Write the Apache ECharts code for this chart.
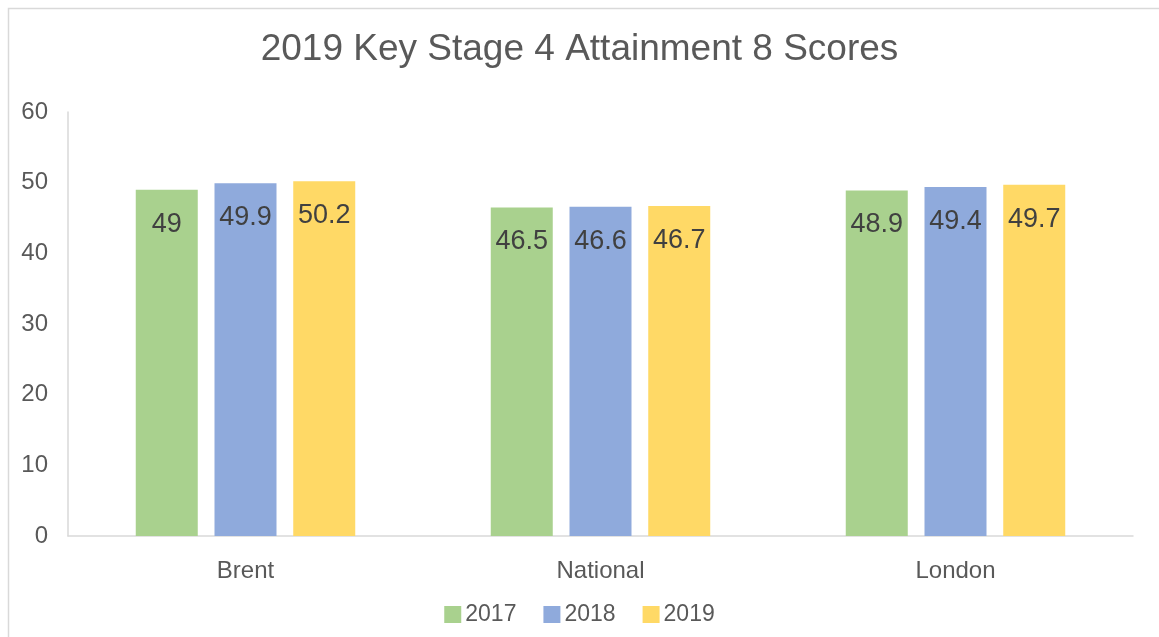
<!DOCTYPE html>
<html>
<head>
<meta charset="utf-8">
<script src="https://cdn.jsdelivr.net/npm/echarts@6/dist/echarts.min.js"></script>
<style>html,body{margin:0;padding:0;background:#fff}#c{width:1159px;height:637px}</style>
</head>
<body>
<div id="c"></div>
<script>
const categories = ['Brent', 'National', 'London'];
const seriesNames = ['2017', '2018', '2019'];
const values2017 = [49, 46.5, 48.9];
const values2018 = [49.9, 46.6, 49.4];
const values2019 = [50.2, 46.7, 49.7];
const colors = ['#A9D18E', '#8FAADC', '#FFD966'];

const font = '"Liberation Sans", Arial, sans-serif';
const chart = echarts.init(document.getElementById('c'), null, {renderer: 'canvas'});
const allValues = [values2017, values2018, values2019];
chart.setOption({
  animation: false,
  backgroundColor: '#fff',
  graphic: [{
    type: 'rect', silent: true, z: -10,
    shape: {x: 8.5, y: 8.5, width: 1300, height: 800},
    style: {fill: 'none', stroke: '#d9d9d9', lineWidth: 1.5}
  }],
  title: {
    text: '2019 Key Stage 4 Attainment 8 Scores',
    left: 'center', top: 26,
    textStyle: {fontFamily: font, fontSize: 37, fontWeight: 'normal', color: '#595959'}
  },
  legend: {
    bottom: 6, left: 'center',
    itemWidth: 17, itemHeight: 17, itemGap: 27,
    icon: 'rect',
    textStyle: {fontFamily: font, fontSize: 23, color: '#595959', padding: [0, 0, 0, -1]},
    data: seriesNames
  },
  grid: {left: 68, right: 26, top: 112, bottom: 101, containLabel: false},
  xAxis: {
    type: 'category', data: categories,
    axisLine: {lineStyle: {color: '#d9d9d9', width: 1.5}},
    axisTick: {show: false},
    axisLabel: {fontFamily: font, fontSize: 24, color: '#595959', margin: 23}
  },
  yAxis: {
    type: 'value', min: 0, max: 60, interval: 10,
    axisLine: {show: true, lineStyle: {color: '#d9d9d9', width: 1.5}},
    axisTick: {show: false},
    splitLine: {show: false},
    axisLabel: {fontFamily: font, fontSize: 24, color: '#595959', margin: 20}
  },
  series: seriesNames.map((n, i) => ({
    name: n, type: 'bar', data: allValues[i],
    barWidth: 62, barGap: '27%',
    itemStyle: {color: colors[i]},
    label: {
      show: true, position: 'insideTop', distance: 21,
      fontFamily: font, fontSize: 27, color: '#404040'
    }
  }))
});
</script>
</body>
</html>
